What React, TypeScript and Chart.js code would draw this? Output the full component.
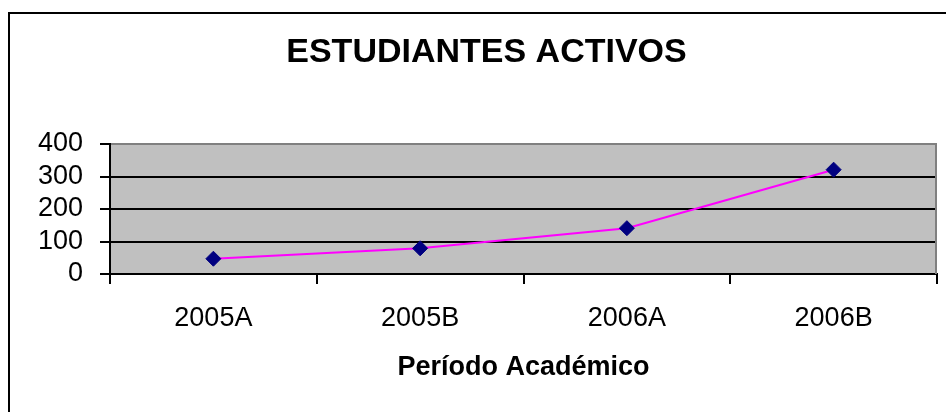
import React, { useEffect, useRef } from "react";
import { Chart, registerables } from "chart.js";

Chart.register(...registerables);

const categories = ["2005A", "2005B", "2006A", "2006B"];
const activeStudents = [47, 79, 141, 321];
const yMin = 0;
const yMax = 400;
const yStep = 100;
const chartTitle = "ESTUDIANTES ACTIVOS";
const xAxisTitle = "Período Académico";

const FONT = '"Liberation Sans", Arial, sans-serif';

const decorPlugin = {
  id: "decor",
  beforeDraw(chart: any) {
    const { ctx, chartArea } = chart;
    ctx.save();
    ctx.fillStyle = "#ffffff";
    ctx.fillRect(0, 0, chart.width, chart.height);
    ctx.fillStyle = "#C0C0C0";
    ctx.fillRect(chartArea.left, chartArea.top, chartArea.right - chartArea.left, chartArea.bottom - chartArea.top);
    ctx.restore();
  },
  beforeDatasetsDraw(chart: any) {
    const { ctx, chartArea } = chart;
    ctx.save();
    ctx.strokeStyle = "#808080";
    ctx.lineWidth = 2;
    ctx.beginPath();
    ctx.moveTo(chartArea.right - 1, chartArea.top);
    ctx.lineTo(chartArea.right - 1, chartArea.bottom);
    ctx.stroke();
    ctx.restore();
  },
  afterDraw(chart: any) {
    const { ctx } = chart;
    ctx.save();
    ctx.strokeStyle = "#000000";
    ctx.lineWidth = 2;
    ctx.strokeRect(9, 13, 2000, 2000);
    ctx.fillStyle = "#000000";
    ctx.font = `bold 34px ${FONT}`;
    ctx.textAlign = "center";
    ctx.textBaseline = "middle";
    ctx.fillText(chartTitle, 486.5, 53);
    ctx.restore();
  },
};

export default function App() {
  const ref = useRef<HTMLCanvasElement>(null);

  useEffect(() => {
    if (!ref.current) return;
    const chart = new Chart(ref.current, {
      type: "line",
      data: {
        labels: categories,
        datasets: [
          {
            label: "Estudiantes activos",
            data: activeStudents,
            borderColor: "#FF00FF",
            borderWidth: 2,
            backgroundColor: "#000080",
            pointStyle: "rectRot",
            pointRadius: 7.5,
            pointBorderWidth: 1,
            pointBorderColor: "#000080",
            pointBackgroundColor: "#000080",
            tension: 0,
            fill: false,
          },
        ],
      },
      options: {
        responsive: false,
        animation: false,
        layout: { padding: { left: 0, top: 144, right: 9, bottom: 0 } },
        plugins: {
          legend: { display: false },
          title: { display: false },
          tooltip: { enabled: false },
        },
        scales: {
          x: {
            type: "category",
            offset: true,
            grid: {
              offset: true,
              drawOnChartArea: false,
              drawTicks: true,
              tickLength: 10,
              color: "#000000",
              lineWidth: 2,
            },
            border: { display: true, color: "#000000", width: 2 },
            ticks: {
              color: "#000000",
              padding: 18,
              maxRotation: 0,
              autoSkip: false,
              font: { family: FONT, size: 27 },
            },
            title: {
              display: true,
              text: xAxisTitle,
              color: "#000000",
              font: { family: FONT, size: 27, weight: "bold" },
              padding: { top: 0, bottom: 28 },
            },
            afterFit(scale: any) {
              scale.height = 138;
            },
          },
          y: {
            min: yMin,
            max: yMax,
            grid: {
              color: (c: any) => (c.tick && c.tick.value === yMax ? "#808080" : "#000000"),
              tickColor: "#000000",
              lineWidth: 2,
              tickLength: 10,
            },
            border: { display: true, color: "#000000", width: 2 },
            ticks: {
              color: "#000000",
              padding: 17,
              stepSize: yStep,
              autoSkip: false,
              font: { family: FONT, size: 27 },
            },
            afterFit(scale: any) {
              scale.width = 110;
            },
          },
        },
      },
      plugins: [decorPlugin],
    });
    return () => chart.destroy();
  }, []);

  return (
    <div style={{ position: "fixed", left: 0, top: 0, width: 946, height: 412, background: "#fff" }}>
      <canvas ref={ref} width={946} height={412} style={{ display: "block" }} />
    </div>
  );
}
